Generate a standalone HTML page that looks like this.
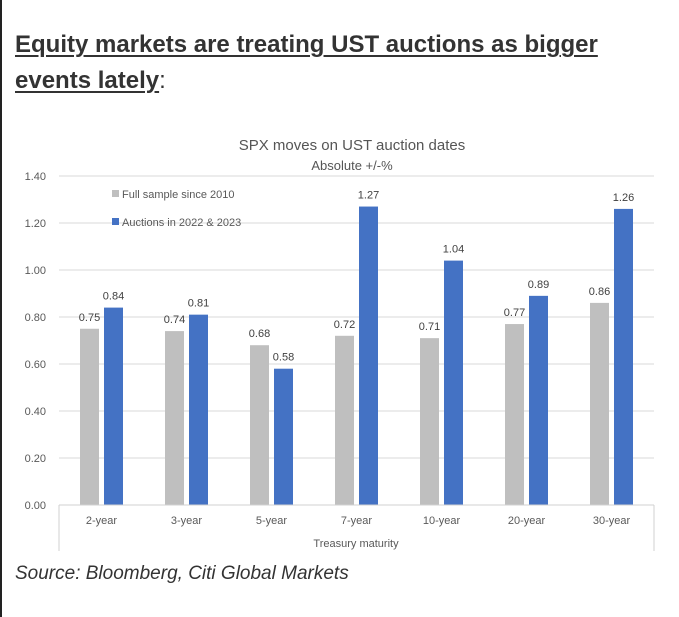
<!DOCTYPE html>
<html><head><meta charset="utf-8"><style>
body{margin:0;width:679px;height:617px;background:#fff;position:relative;overflow:hidden;font-family:"Liberation Sans",sans-serif}
#lb{position:absolute;left:0;top:0;width:2px;height:617px;background:#222}
h1{position:absolute;left:15px;top:27px;margin:0;font-size:24px;line-height:36px;font-weight:bold;color:#333;width:640px}
h1 u{text-decoration-thickness:2px;text-underline-offset:3px}
h1 span{font-weight:normal}
#src{position:absolute;left:15px;top:563px;font-size:19px;font-style:italic;color:#333}
svg{position:absolute;left:0;top:0}
</style></head><body>
<div id="lb"></div>
<h1><u>Equity markets are treating UST auctions as bigger events lately</u><span>:</span></h1>
<svg id="c" width="679" height="617"></svg>
<div id="src">Source: Bloomberg, Citi Global Markets</div>
<script>
const categories=["2-year","3-year","5-year","7-year","10-year","20-year","30-year"];
const fullSample=[0.75,0.74,0.68,0.72,0.71,0.77,0.86];
const auctions=[0.84,0.81,0.58,1.27,1.04,0.89,1.26];
const yTicks=[0,0.2,0.4,0.6,0.8,1.0,1.2,1.4];
const svg=document.getElementById('c');const NS='http://www.w3.org/2000/svg';
const X0=59,X1=654,Y0=505,Y1=176,YMAX=1.4;
const cw=(X1-X0)/categories.length;
const y=v=>Y0-(v/YMAX)*(Y0-Y1);
function mk(t,a,txt){const e=document.createElementNS(NS,t);for(const k in a)e.setAttribute(k,a[k]);if(txt!=null)e.textContent=txt;svg.appendChild(e);return e;}
const F='"Liberation Sans",sans-serif';
let e;
e=mk('text',{x:352,y:150,'text-anchor':'middle','font-size':15,fill:'#555','font-family':F},'SPX moves on UST auction dates');


e=mk('text',{x:352,y:170,'text-anchor':'middle','font-size':13,fill:'#555','font-family':F},'Absolute +/-%');


yTicks.forEach(v=>{
 e=mk('line',{x1:X0,x2:X1,y1:y(v),y2:y(v),stroke:'#d9d9d9','stroke-width':1});
 
 
 e=mk('text',{x:46,y:y(v)+4,'text-anchor':'end','font-size':11,fill:'#595959','font-family':F},v.toFixed(2));
 
 
});
categories.forEach((c,i)=>{
 const cx=X0+cw*i;
 const g=y(fullSample[i]),b=y(auctions[i]);
 e=mk('rect',{x:cx+21,y:g,width:19,height:Y0-g,fill:'#bfbfbf'});
 
 
 e=mk('rect',{x:cx+45,y:b,width:19,height:Y0-b,fill:'#4472c4'});
 
 
 e=mk('text',{x:cx+30.5,y:g-8,'text-anchor':'middle','font-size':11,fill:'#404040','font-family':F},fullSample[i].toFixed(2));
 
 
 e=mk('text',{x:cx+54.5,y:b-8,'text-anchor':'middle','font-size':11,fill:'#404040','font-family':F},auctions[i].toFixed(2));
 
 
 e=mk('text',{x:cx+cw/2,y:524,'text-anchor':'middle','font-size':11,fill:'#595959','font-family':F},c);
 
 
});
e=mk('path',{d:`M${X0} ${Y0}H${X1}M${X0} ${Y0}V551M${X1} ${Y0}V551`,stroke:'#d0d0d0',fill:'none'});


e=mk('text',{x:356,y:547,'text-anchor':'middle','font-size':11,fill:'#595959','font-family':F},'Treasury maturity');


e=mk('rect',{x:112,y:190,width:7,height:7,fill:'#bfbfbf'});


e=mk('text',{x:122,y:198,'font-size':11,fill:'#595959','font-family':F},'Full sample since 2010');


e=mk('rect',{x:112,y:218,width:7,height:7,fill:'#4472c4'});


e=mk('text',{x:122,y:226,'font-size':11,fill:'#595959','font-family':F},'Auctions in 2022 & 2023');


</script>
</body></html>
